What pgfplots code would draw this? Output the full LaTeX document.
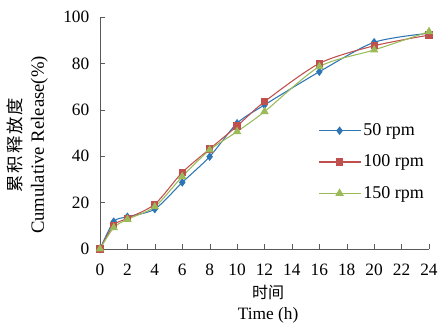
\documentclass[border=0pt]{standalone}
\usepackage{pgfplots}
\pgfplotsset{compat=1.18}
\usepackage{fontspec}
\setmainfont{Liberation Serif}
\newfontfamily\cjk{Noto Sans CJK SC}
\definecolor{cblue}{HTML}{2E75B6}
\definecolor{cred}{HTML}{C0504D}
\definecolor{cgreen}{HTML}{9BBB59}
\begin{document}
\begin{tikzpicture}
\begin{axis}[
  scale only axis,
  width=246.75pt, height=174pt,
  xmin=0, xmax=24, ymin=0, ymax=100,
  xtick={0,2,...,24}, ytick={0,20,...,100},
  axis lines=left,
  axis line style={-, gray!70!black},
  tick align=inside,
  tick style={gray!70!black, major tick length=4pt},
  /pgf/number format/assume math mode=true,
  ticklabel style={font=\fontsize{13}{15}\selectfont},
  xticklabel style={yshift=-8pt},
  yticklabel style={xshift=-4.5pt},
  xlabel={{\cjk\fontsize{12}{14}\selectfont 时间}\\Time (h)},
  ylabel={{\cjk\fontsize{13}{15}\selectfont 累\hspace{1.5pt}积\hspace{1.5pt}释\hspace{1.5pt}放\hspace{1.5pt}度}\\Cumulative Release(\%)},
  xlabel style={align=center, font=\fontsize{13}{16}\selectfont, inner sep=0pt,
    at={(axis description cs:0.511,-0.155)}, anchor=north},
  ylabel style={align=center, font=\fontsize{14}{17}\selectfont, inner sep=0pt,
    at={(axis description cs:-0.158,0.448)}, anchor=south, rotate=0},
  legend style={draw=none, fill=none, at={(0.663,0.375)}, anchor=west,
    inner sep=0pt, font=\fontsize{13.5}{15}\selectfont, row sep=9pt},
  legend cell align=left,
  legend image code/.code={\draw[mark repeat=2,mark phase=2] plot coordinates {(0pt,0pt) (15.5pt,0pt) (31pt,0pt)};},
  every axis plot/.append style={thick, smooth, tension=0.45},
  clip=false,
]
\addplot[cblue, mark=diamond*, mark size=2.6pt, mark options={solid}] coordinates {
(0,0) (1,11.8) (2,13.9) (4,17.2) (6,28.7) (8,39.8) (10,54.2) (12,62.1) (16,76.4) (20,89.1) (24,93.0)};
\addlegendentry{50 rpm}
\addplot[cred, mark=square*, mark size=2.3pt] coordinates {
(0,0) (1,10.3) (2,13.2) (4,19.3) (6,33.0) (8,43.1) (10,53.0) (12,63.5) (16,80.0) (20,87.6) (24,92.2)};
\addlegendentry{100 rpm}
\addplot[cgreen, mark=triangle*, mark size=2.9pt] coordinates {
(0,0) (1,9.2) (2,12.8) (4,18.2) (6,31.2) (8,42.7) (10,50.6) (12,59.2) (16,78.6) (20,85.8) (24,93.7)};
\addlegendentry{150 rpm}
\end{axis}
\pgfresetboundingbox
\path ([shift={(-75pt,-57pt)}]current axis.south west) rectangle ([shift={(8.25pt,12.75pt)}]current axis.north east);
\end{tikzpicture}
\end{document}
